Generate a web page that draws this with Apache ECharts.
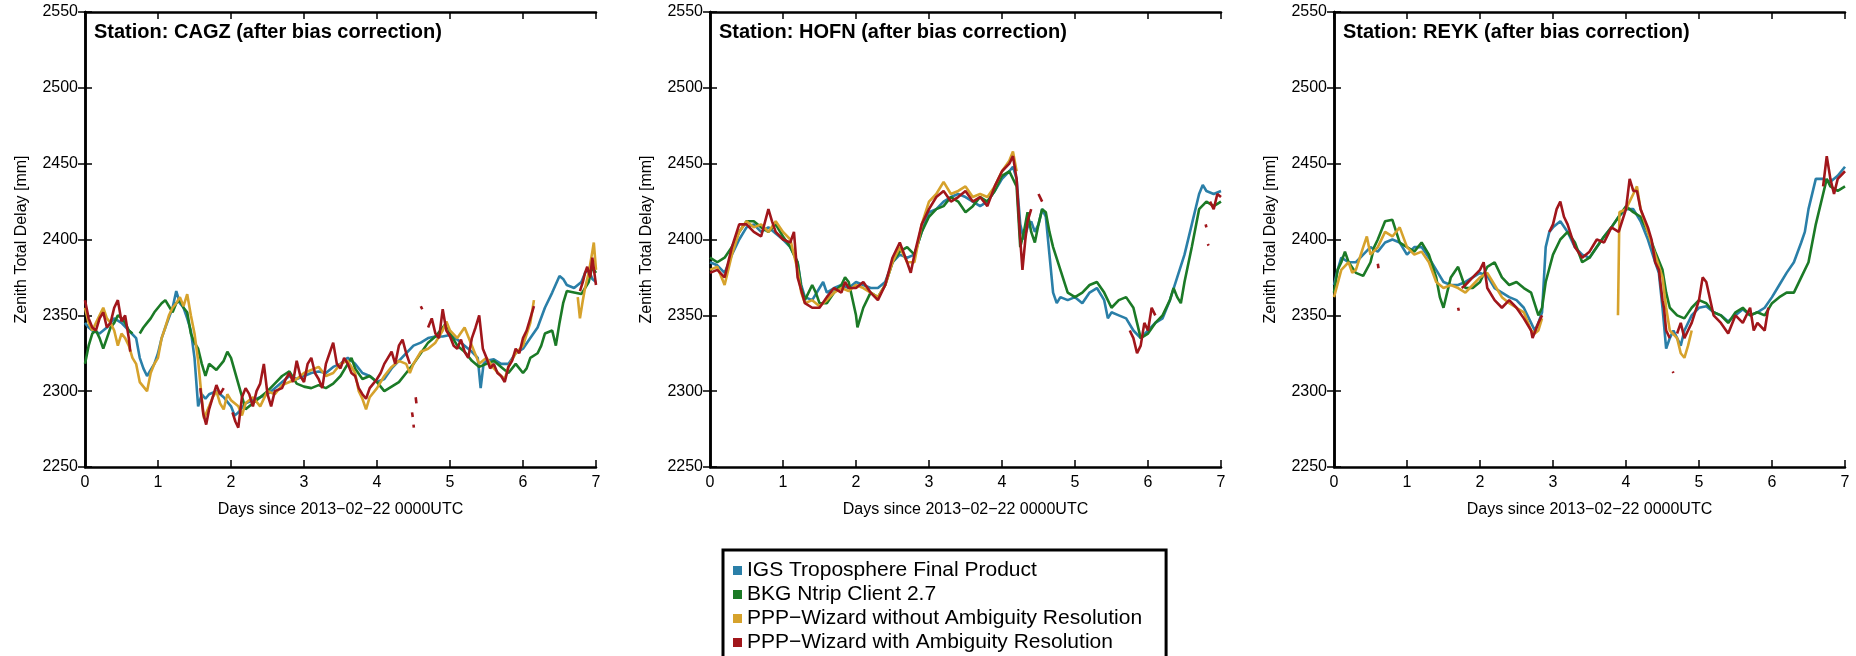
<!DOCTYPE html>
<html>
<head>
<meta charset="utf-8">
<script src="https://cdn.jsdelivr.net/npm/echarts@6/dist/echarts.min.js"></script>
<style>
html, body { margin: 0; padding: 0; background: #fff; }
#chart { width: 1856px; height: 656px; }
</style>
</head>
<body>
<div id="chart"></div>
<script>
// 台站与序列
const stationNames = ['CAGZ', 'HOFN', 'REYK'];
const seriesNames = [
	'IGS Troposphere Final Product',
	'BKG Ntrip Client 2.7',
	'PPP\u2212Wizard without Ambiguity Resolution',
	'PPP\u2212Wizard with Ambiguity Resolution',
];
const seriesColors = ['#2a7fa8', '#1b7a26', '#d6a22c', '#a1161b'];
const dayTicks = [0, 7, 1]; // min, max, interval
const zenithTicks = [2250, 2550, 50];

// [day, ZTD mm]，'-' 为断点
const cagzIgs = [[0,2345],[0.05,2342],[0.1,2340],[0.2,2338],[0.3,2342],[0.4,2348],[0.5,2345],[0.6,2340],[0.7,2335],[0.75,2322],[0.8,2315],[0.85,2310],[0.9,2314],[0.95,2318],[1.0,2325],[1.05,2335],[1.1,2342],[1.2,2355],[1.25,2366],[1.3,2358],[1.35,2355],[1.4,2348],[1.45,2340],[1.5,2322],[1.55,2290],[1.6,2298],[1.65,2295],[1.7,2298],[1.8,2300],[1.9,2296],[2.0,2290],[2.05,2284],[2.1,2286],[2.2,2292],[2.3,2294],[2.4,2296],[2.5,2298],[2.6,2302],[2.7,2306],[2.8,2310],[2.9,2308],[3.0,2310],[3.1,2312],[3.2,2313],[3.3,2312],[3.4,2316],[3.5,2318],[3.6,2322],[3.7,2318],[3.8,2312],[3.9,2310],[4.0,2306],[4.1,2308],[4.2,2315],[4.3,2320],[4.4,2325],[4.5,2330],[4.6,2332],[4.7,2335],[4.8,2336],[4.9,2336],[5.0,2337],[5.1,2334],[5.2,2330],[5.3,2326],[5.38,2322],[5.42,2302],[5.46,2318],[5.5,2320],[5.6,2321],[5.7,2318],[5.8,2318],[5.9,2325],[6.0,2328],[6.1,2335],[6.2,2342],[6.3,2355],[6.4,2365],[6.5,2376],[6.55,2374],[6.6,2370],[6.7,2368],[6.8,2372],[6.85,2378],[6.9,2380],[6.95,2374],[7.0,2372]];
const cagzBkg = [[0,2318],[0.05,2330],[0.1,2338],[0.15,2340],[0.2,2335],[0.25,2328],[0.3,2335],[0.35,2342],[0.4,2345],[0.45,2350],[0.5,2348],[0.55,2345],[0.6,2340],[0.65,2338],[0.7,'-'],[0.75,2338],[0.8,2342],[0.85,2345],[0.9,2348],[0.95,2352],[1.0,2355],[1.05,2358],[1.1,2360],[1.15,2356],[1.2,2352],[1.25,2358],[1.3,2360],[1.35,2355],[1.4,2352],[1.45,2338],[1.5,2332],[1.55,2328],[1.6,2318],[1.65,2310],[1.7,2318],[1.8,2314],[1.9,2320],[1.95,2326],[2.0,2322],[2.1,2305],[2.2,2288],[2.3,2292],[2.4,2296],[2.5,2300],[2.6,2305],[2.7,2310],[2.8,2313],[2.9,2305],[3.0,2303],[3.1,2302],[3.2,2304],[3.3,2302],[3.4,2305],[3.5,2310],[3.6,2318],[3.65,2322],[3.7,2315],[3.8,2308],[3.9,2310],[4.0,2306],[4.1,2300],[4.2,2303],[4.3,2306],[4.4,2312],[4.5,2318],[4.6,2325],[4.7,2332],[4.8,2336],[4.9,2342],[4.95,2345],[5.0,2338],[5.1,2330],[5.2,2326],[5.3,2320],[5.4,2316],[5.5,2318],[5.6,2320],[5.7,2316],[5.8,2312],[5.9,2318],[6.0,2312],[6.05,2315],[6.1,2322],[6.2,2325],[6.25,2330],[6.3,2338],[6.4,2340],[6.45,2330],[6.5,2345],[6.55,2358],[6.6,2366],[6.7,2365],[6.8,2364],[6.9,2372],[6.95,2382],[7.0,2378]];
const cagzFloat = [[0,2355],[0.05,2345],[0.1,2340],[0.15,2345],[0.2,2350],[0.25,2355],[0.3,2348],[0.35,2345],[0.4,2340],[0.45,2330],[0.5,2338],[0.55,2335],[0.6,2330],[0.65,2322],[0.7,2318],[0.75,2306],[0.8,2303],[0.85,2300],[0.9,2312],[0.95,2318],[1.0,2322],[1.05,2335],[1.1,2342],[1.15,2350],[1.2,2355],[1.25,2358],[1.3,2362],[1.35,2356],[1.4,2364],[1.45,2350],[1.5,2338],[1.55,2320],[1.6,2295],[1.63,2282],[1.7,2290],[1.75,2296],[1.8,2300],[1.85,2292],[1.9,2288],[1.95,2298],[2.0,2294],[2.1,2290],[2.15,2284],[2.2,2292],[2.3,2296],[2.4,2290],[2.5,2300],[2.6,2298],[2.7,2304],[2.8,2306],[2.9,2308],[3.0,2312],[3.1,2314],[3.2,2316],[3.3,2310],[3.4,2312],[3.5,2318],[3.6,2320],[3.7,2312],[3.75,2300],[3.8,2295],[3.85,2288],[3.9,2296],[4.0,2302],[4.1,2310],[4.2,2316],[4.3,2320],[4.4,2318],[4.45,2312],[4.5,2318],[4.6,2326],[4.7,2328],[4.8,2332],[4.9,2340],[4.95,2346],[5.0,2340],[5.1,2335],[5.2,2342],[5.3,2330],[5.4,2318],[5.5,2322],[5.6,2315],[5.7,2310],[5.75,2308],[5.8,2316],[5.9,2325],[6.0,2330],[6.1,2345],[6.15,2360],[6.17,'-'],[6.75,2362],[6.78,2348],[6.82,2360],[6.85,2368],[6.9,2378],[6.95,2392],[6.97,2398],[7.0,2380]];
const cagzFixed = [[0,2360],[0.05,2348],[0.1,2342],[0.15,2340],[0.2,2348],[0.25,2352],[0.3,2342],[0.35,2345],[0.4,2355],[0.45,2360],[0.5,2346],[0.55,2350],[0.6,2335],[0.62,2326],[0.65,'-'],[1.58,2302],[1.62,2285],[1.66,2278],[1.7,2288],[1.75,2296],[1.8,2304],[1.85,2298],[1.9,2302],[1.95,'-'],[2.02,2286],[2.06,2280],[2.1,2276],[2.15,2296],[2.2,2302],[2.25,2298],[2.3,2290],[2.35,2300],[2.4,2305],[2.45,2318],[2.5,2298],[2.55,2290],[2.6,2300],[2.7,2302],[2.75,2308],[2.8,2312],[2.85,2306],[2.9,2320],[2.95,2310],[3.0,2306],[3.05,2318],[3.1,2322],[3.15,2312],[3.2,2308],[3.25,2302],[3.3,2318],[3.35,2325],[3.4,2332],[3.45,2318],[3.5,2315],[3.55,2322],[3.6,2318],[3.65,2312],[3.7,2310],[3.75,2302],[3.8,2298],[3.85,2295],[3.9,2302],[3.95,2305],[4.0,2308],[4.05,2312],[4.1,2318],[4.15,2322],[4.2,2326],[4.25,2318],[4.3,2330],[4.35,2334],[4.4,2325],[4.45,2318],[4.46,'-'],[4.48,2286],[4.49,2283],[4.495,'-'],[4.5,2278],[4.505,2276],[4.51,'-'],[4.53,2296],[4.54,2292],[4.55,'-'],[4.6,2356],[4.62,2354],[4.65,'-'],[4.7,2342],[4.75,2348],[4.8,2338],[4.85,2335],[4.9,2354],[4.95,2340],[5.0,2336],[5.05,2330],[5.1,2328],[5.15,2334],[5.2,2326],[5.25,2322],[5.3,2335],[5.35,2342],[5.4,2350],[5.45,2328],[5.5,2322],[5.55,2315],[5.6,2318],[5.65,2312],[5.7,2310],[5.75,2306],[5.8,2316],[5.85,2320],[5.9,2328],[5.95,2325],[6.0,2335],[6.05,2340],[6.1,2348],[6.15,2356],[6.17,'-'],[6.78,2366],[6.82,2372],[6.85,2378],[6.88,2382],[6.92,2375],[6.95,2388],[7.0,2370]];

const hofnIgs = [[0,2385],[0.1,2383],[0.2,2378],[0.3,2390],[0.4,2400],[0.5,2408],[0.6,2410],[0.7,2405],[0.8,2408],[0.9,2404],[1.0,2400],[1.1,2395],[1.2,2385],[1.25,2370],[1.3,2362],[1.4,2360],[1.5,2368],[1.55,2372],[1.6,2365],[1.7,2368],[1.8,2370],[1.9,2368],[2.0,2372],[2.1,2370],[2.2,2368],[2.3,2368],[2.4,2372],[2.5,2385],[2.6,2390],[2.7,2388],[2.8,2390],[2.9,2405],[3.0,2418],[3.1,2420],[3.2,2425],[3.3,2428],[3.4,2430],[3.5,2428],[3.6,2425],[3.7,2422],[3.8,2425],[3.9,2432],[4.0,2440],[4.1,2445],[4.15,2448],[4.2,2440],[4.25,2410],[4.3,2400],[4.35,2408],[4.4,2412],[4.45,2405],[4.5,2410],[4.55,2420],[4.6,2415],[4.65,2390],[4.7,2365],[4.75,2358],[4.8,2362],[4.9,2360],[5.0,2362],[5.1,2358],[5.2,2365],[5.3,2368],[5.4,2360],[5.45,2348],[5.5,2352],[5.6,2350],[5.7,2348],[5.8,2340],[5.9,2335],[6.0,2340],[6.1,2345],[6.2,2348],[6.3,2360],[6.4,2375],[6.5,2390],[6.6,2410],[6.7,2430],[6.75,2436],[6.8,2432],[6.9,2430],[7.0,2432]];
const hofnBkg = [[0,2388],[0.1,2385],[0.2,2388],[0.3,2395],[0.4,2405],[0.5,2412],[0.6,2412],[0.7,2408],[0.8,2405],[0.9,2410],[1.0,2402],[1.1,2395],[1.2,2385],[1.25,2368],[1.3,2360],[1.4,2370],[1.45,2365],[1.5,2358],[1.6,2358],[1.7,2365],[1.8,2370],[1.85,2375],[1.9,2372],[2.0,2350],[2.02,2342],[2.1,2355],[2.2,2365],[2.3,2362],[2.4,2370],[2.5,2385],[2.6,2392],[2.7,2395],[2.8,2390],[2.9,2405],[3.0,2415],[3.1,2420],[3.2,2422],[3.3,2428],[3.4,2425],[3.5,2418],[3.6,2422],[3.7,2428],[3.8,2425],[3.9,2432],[4.0,2442],[4.1,2445],[4.2,2435],[4.25,2395],[4.3,2405],[4.35,2418],[4.4,2405],[4.45,2398],[4.5,2410],[4.55,2420],[4.6,2418],[4.65,2405],[4.7,2395],[4.8,2380],[4.9,2365],[5.0,2362],[5.1,2365],[5.2,2370],[5.3,2372],[5.4,2365],[5.5,2355],[5.6,2360],[5.7,2362],[5.8,2355],[5.85,2345],[5.9,2335],[6.0,2338],[6.1,2345],[6.2,2350],[6.3,2360],[6.35,2368],[6.4,2362],[6.45,2358],[6.5,2372],[6.6,2395],[6.7,2420],[6.8,2425],[6.9,2422],[7.0,2425]];
const hofnFloat = [[0,2380],[0.1,2382],[0.2,2370],[0.3,2390],[0.4,2405],[0.5,2412],[0.6,2408],[0.7,2410],[0.8,2405],[0.9,2412],[1.0,2405],[1.1,2400],[1.2,2380],[1.25,2365],[1.3,2358],[1.4,2360],[1.5,2356],[1.6,2360],[1.7,2365],[1.8,2368],[1.9,2366],[2.0,2370],[2.1,2368],[2.2,2365],[2.3,2362],[2.4,2370],[2.5,2385],[2.6,2395],[2.7,2385],[2.8,2385],[2.9,2410],[3.0,2425],[3.1,2430],[3.2,2438],[3.3,2430],[3.4,2432],[3.5,2435],[3.6,2428],[3.7,2430],[3.8,2428],[3.9,2435],[4.0,2445],[4.1,2452],[4.15,2458],[4.2,2445]];
const hofnFixed = [[0,2378],[0.1,2380],[0.2,2375],[0.3,2395],[0.4,2410],[0.5,2410],[0.6,2405],[0.7,2402],[0.8,2420],[0.85,2412],[0.9,2405],[1.0,2400],[1.1,2398],[1.15,2405],[1.2,2375],[1.3,2358],[1.4,2355],[1.5,2355],[1.6,2362],[1.7,2368],[1.8,2365],[1.85,2372],[1.9,2368],[2.0,2368],[2.1,2372],[2.2,2365],[2.3,2360],[2.4,2370],[2.5,2388],[2.6,2398],[2.7,2385],[2.75,2378],[2.8,2390],[2.9,2410],[3.0,2420],[3.1,2428],[3.2,2432],[3.3,2425],[3.4,2428],[3.5,2432],[3.6,2425],[3.7,2428],[3.8,2422],[3.9,2435],[4.0,2445],[4.1,2450],[4.15,2455],[4.2,2440],[4.25,2400],[4.28,2380],[4.32,2400],[4.35,2412],[4.4,2420],[4.45,'-'],[4.5,2430],[4.55,2425],[4.6,'-'],[5.75,2340],[5.8,2335],[5.85,2325],[5.9,2330],[5.95,2345],[6.0,2340],[6.05,2355],[6.1,2350],[6.15,'-'],[6.79,2410],[6.8,2408],[6.81,'-'],[6.82,2397],[6.83,2396],[6.84,'-'],[6.85,2425],[6.9,2420],[6.95,2430],[7.0,2428]];

const reykIgs = [[0,2370],[0.05,2380],[0.1,2388],[0.2,2385],[0.3,2385],[0.4,2390],[0.5,2395],[0.6,2392],[0.7,2398],[0.8,2400],[0.9,2398],[1.0,2390],[1.1,2395],[1.2,2395],[1.3,2388],[1.4,2380],[1.5,2372],[1.6,2370],[1.7,2370],[1.8,2372],[1.9,2375],[2.0,2378],[2.1,2376],[2.2,2368],[2.3,2365],[2.4,2362],[2.5,2360],[2.6,2355],[2.7,2345],[2.75,2340],[2.8,2345],[2.85,2352],[2.9,2395],[2.95,2405],[3.0,2408],[3.1,2412],[3.2,2405],[3.3,2395],[3.4,2390],[3.5,2388],[3.6,2395],[3.7,2402],[3.8,2408],[3.9,2415],[4.0,2420],[4.1,2420],[4.2,2412],[4.3,2400],[4.4,2385],[4.45,2378],[4.5,2355],[4.55,2328],[4.6,2335],[4.65,2340],[4.7,2335],[4.75,2330],[4.8,2340],[4.9,2350],[5.0,2355],[5.1,2356],[5.2,2352],[5.3,2350],[5.4,2346],[5.5,2350],[5.6,2354],[5.7,2350],[5.8,2352],[5.9,2355],[6.0,2362],[6.1,2370],[6.2,2378],[6.3,2385],[6.4,2398],[6.45,2405],[6.5,2420],[6.6,2440],[6.7,2440],[6.8,2438],[6.9,2442],[7.0,2448]];
const reykBkg = [[0,2365],[0.05,2380],[0.1,2385],[0.15,2392],[0.2,2385],[0.3,2378],[0.4,2376],[0.5,2385],[0.55,2395],[0.6,2400],[0.7,2412],[0.8,2413],[0.9,2398],[1.0,2395],[1.1,2392],[1.2,2398],[1.3,2390],[1.4,2375],[1.45,2362],[1.5,2355],[1.6,2375],[1.7,2382],[1.8,2368],[1.9,2368],[2.0,2372],[2.1,2382],[2.2,2385],[2.3,2375],[2.4,2370],[2.5,2372],[2.6,2368],[2.7,2365],[2.8,2350],[2.85,2355],[2.9,2372],[3.0,2390],[3.1,2400],[3.2,2405],[3.3,2398],[3.4,2385],[3.5,2388],[3.6,2395],[3.7,2402],[3.8,2408],[3.9,2415],[4.0,2422],[4.1,2418],[4.2,2415],[4.3,2405],[4.4,2392],[4.5,2380],[4.55,2365],[4.6,2355],[4.7,2350],[4.8,2348],[4.9,2355],[5.0,2360],[5.1,2358],[5.2,2352],[5.3,2350],[5.4,2345],[5.5,2352],[5.6,2355],[5.7,2350],[5.8,2352],[5.9,2350],[6.0,2358],[6.1,2362],[6.2,2365],[6.3,2365],[6.4,2375],[6.5,2385],[6.6,2410],[6.7,2430],[6.75,2440],[6.8,2435],[6.9,2432],[7.0,2435]];
const reykFloat = [[0,2362],[0.1,2380],[0.2,2385],[0.25,2378],[0.3,2380],[0.4,2395],[0.45,2402],[0.5,2390],[0.6,2395],[0.7,2405],[0.8,2402],[0.9,2408],[1.0,2395],[1.1,2390],[1.2,2392],[1.3,2385],[1.4,2372],[1.5,2368],[1.6,2370],[1.7,2368],[1.8,2365],[1.9,2370],[2.0,2375],[2.1,2378],[2.2,2370],[2.3,2362],[2.4,2358],[2.5,2355],[2.6,2352],[2.7,2340],[2.75,2338],[2.8,2340],[2.85,2348],[2.87,'-'],[3.89,2350],[3.91,2418],[4.0,2420],[4.1,2430],[4.15,2435],[4.2,2420],[4.3,2405],[4.4,2390],[4.5,2375],[4.55,2355],[4.6,2340],[4.7,2335],[4.75,2325],[4.8,2322],[4.85,2330],[4.9,2340]];
const reykFixed = [[0.6,2384],[0.61,2381],[0.62,'-'],[1.7,2355],[1.71,2353],[1.72,'-'],[1.75,2368],[1.8,2370],[1.9,2375],[2.0,2380],[2.05,2385],[2.1,2368],[2.2,2360],[2.3,2355],[2.4,2360],[2.5,2355],[2.6,2348],[2.7,2340],[2.72,2335],[2.8,2345],[2.85,2350],[2.9,'-'],[2.95,2405],[3.0,2410],[3.05,2420],[3.1,2425],[3.15,2415],[3.2,2410],[3.3,2395],[3.4,2388],[3.5,2392],[3.6,2400],[3.7,2398],[3.8,2408],[3.9,2405],[4.0,2420],[4.05,2440],[4.1,2432],[4.15,2432],[4.2,2420],[4.3,2408],[4.35,2400],[4.4,2385],[4.45,2380],[4.5,2360],[4.52,2355],[4.55,2340],[4.6,2335],[4.62,'-'],[4.64,2313],[4.65,2312],[4.66,'-'],[4.7,2338],[4.75,2345],[4.8,2335],[4.85,2340],[4.9,2345],[5.0,2360],[5.05,2375],[5.1,2372],[5.2,2350],[5.3,2345],[5.4,2338],[5.5,2350],[5.6,2345],[5.7,2355],[5.75,2340],[5.8,2345],[5.9,2340],[5.95,2355],[6.0,'-'],[6.7,2435],[6.75,2455],[6.8,2440],[6.85,2430],[6.9,2440],[7.0,2445]];

const stationData = [
	[cagzIgs, cagzBkg, cagzFloat, cagzFixed],
	[hofnIgs, hofnBkg, hofnFloat, hofnFixed],
	[reykIgs, reykBkg, reykFloat, reykFixed],
];

const gridLefts = [85, 710, 1334];
const font = 'Liberation Sans, Arial, Helvetica, sans-serif';

const axisLine = { show: true, lineStyle: { color: '#000', width: 2.5 } };
const axisTick = { show: true, inside: true, length: 7, lineStyle: { color: '#000', width: 1.5 } };

const grid = [];
const xAxis = [];
const yAxis = [];
const title = [];
const series = [];

stationNames.forEach((station, i) => {
	grid.push({ left: gridLefts[i], top: 12, width: 511, height: 455 });
	title.push({
		text: `Station: ${station} (after bias correction)`,
		left: gridLefts[i] + 9,
		top: 22,
		padding: 0,
		textStyle: { fontFamily: font, fontSize: 20, fontWeight: 'bold', color: '#000' },
	});
	// 下、上 x 轴
	xAxis.push({
		gridIndex: i, type: 'value', position: 'bottom',
		min: dayTicks[0], max: dayTicks[1], interval: dayTicks[2],
		name: 'Days since 2013\u221202\u221222 0000UTC',
		nameLocation: 'middle', nameGap: 35,
		nameTextStyle: { fontFamily: font, fontSize: 16, color: '#000' },
		axisLine, axisTick,
		axisLabel: { fontFamily: font, fontSize: 16, color: '#000', margin: 8 },
		splitLine: { show: false },
	});
	xAxis.push({
		gridIndex: i, type: 'value', position: 'top',
		min: dayTicks[0], max: dayTicks[1], interval: dayTicks[2],
		axisLine, axisTick, axisLabel: { show: false }, splitLine: { show: false },
	});
	// 左、右 y 轴
	yAxis.push({
		gridIndex: i, type: 'value', position: 'left',
		min: zenithTicks[0], max: zenithTicks[1], interval: zenithTicks[2],
		name: 'Zenith Total Delay [mm]',
		nameLocation: 'middle', nameGap: 55,
		nameTextStyle: { fontFamily: font, fontSize: 16, color: '#000' },
		axisLine, axisTick,
		axisLabel: { fontFamily: font, fontSize: 16, color: '#000', margin: 7, formatter: v => String(v) },
		splitLine: { show: false },
	});
	yAxis.push({
		gridIndex: i, type: 'value', position: 'right',
		min: zenithTicks[0], max: zenithTicks[1], interval: zenithTicks[2],
		axisLine, axisTick, axisLabel: { show: false }, splitLine: { show: false },
	});

	stationData[i].forEach((data, k) => {
		series.push({
			name: seriesNames[k],
			type: 'line',
			xAxisIndex: i * 2,
			yAxisIndex: i * 2,
			data,
			symbol: 'none',
			showSymbol: false,
			connectNulls: false,
			silent: true,
			z: 2 + k,
			lineStyle: { color: seriesColors[k], width: 2.6 },
			itemStyle: { color: seriesColors[k] },
		});
	});
});

const chart = echarts.init(document.getElementById('chart'));
chart.setOption({
	animation: false,
	backgroundColor: '#fff',
	title,
	grid,
	xAxis,
	yAxis,
	legend: {
		data: seriesNames,
		orient: 'vertical',
		left: 723,
		top: 550,
		height: 200,
		padding: [10, 24, 40, 10],
		itemWidth: 9,
		itemHeight: 9,
		itemGap: 3,
		icon: 'rect',
		borderColor: '#000',
		borderWidth: 3,
		selectedMode: false,
		textStyle: { fontFamily: font, fontSize: 21, color: '#000' },
	},
	series,
});
</script>
</body>
</html>
